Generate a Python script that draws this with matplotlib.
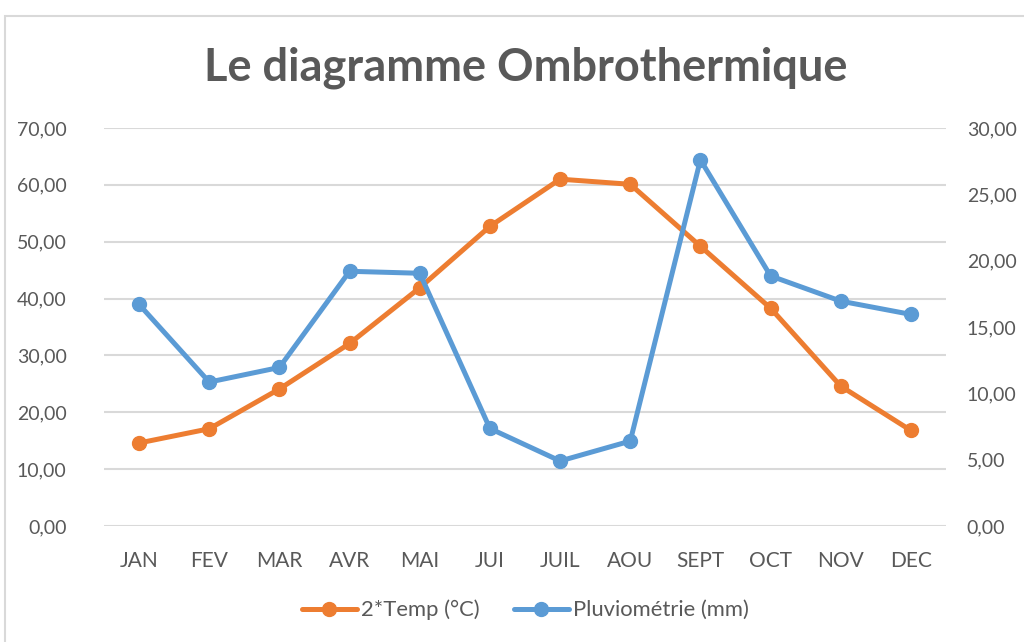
import matplotlib
matplotlib.use("Agg")
import matplotlib.pyplot as plt
from matplotlib.patches import Rectangle
from matplotlib.ticker import FuncFormatter, MultipleLocator

months = ["JAN", "FEV", "MAR", "AVR", "MAI", "JUI", "JUIL", "AOU", "SEPT", "OCT", "NOV", "DEC"]
temp2 = [14.6, 17.1, 24.1, 32.1, 41.9, 52.7, 61.0, 60.1, 49.2, 38.3, 24.6, 16.8]
pluvio = [16.7, 10.85, 11.95, 19.2, 19.05, 7.35, 4.9, 6.4, 27.6, 18.85, 16.95, 15.95]

ORANGE = "#ED7D31"
BLUE = "#5B9BD5"
TEXT = "#595959"
GRID = "#D9D9D9"

plt.rcParams["font.family"] = ["Lato", "DejaVu Sans"]

fig = plt.figure(figsize=(10.24, 6.42), dpi=100)

# chart frame (Excel-like light border, cut off at right/bottom)
fig.patches.append(Rectangle((5 / 1024, -0.05), 1.1, 1 - 16 / 642 + 0.05,
                             transform=fig.transFigure, fill=False,
                             edgecolor=GRID, linewidth=1.5))

ax = fig.add_axes([104 / 1024, 1 - 526 / 642, 842 / 1024, 398 / 642])
ax2 = ax.twinx()

x = list(range(len(months)))
l1, = ax.plot(x, temp2, color=ORANGE, linewidth=3.6, marker="o", markersize=10,
              label="2*Temp (°C)", solid_capstyle="round", zorder=3)
l2, = ax2.plot(x, pluvio, color=BLUE, linewidth=3.6, marker="o", markersize=10,
               label="Pluviométrie (mm)", solid_capstyle="round", zorder=3)

ax.set_xlim(-0.5, len(months) - 0.5)
ax.set_ylim(0, 70)
ax2.set_ylim(0, 30)
ax.yaxis.set_major_locator(MultipleLocator(10))
ax2.yaxis.set_major_locator(MultipleLocator(5))

fmt = FuncFormatter(lambda v, p: f"{v:.2f}".replace(".", ","))
ax.yaxis.set_major_formatter(fmt)
ax2.yaxis.set_major_formatter(fmt)

ax.set_xticks(x)
ax.set_xticklabels(months)

ax.grid(axis="y", color=GRID, linewidth=1.5)
ax.set_axisbelow(True)

for a in (ax, ax2):
    for s in a.spines.values():
        s.set_visible(False)
    a.tick_params(length=0, labelsize=14, colors=TEXT)
ax.tick_params(axis="x", labelsize=15, pad=18)
ax.tick_params(axis="y", pad=27)
ax2.tick_params(axis="y", pad=15)

fig.text(0.513, 1 - 68 / 642, "Le diagramme Ombrothermique", ha="center", va="center",
         fontsize=32.5, fontweight="bold", color=TEXT)

fig.legend(handles=[l1, l2], loc="center", bbox_to_anchor=(0.513, 1 - 610 / 642),
           ncol=2, frameon=False, fontsize=15.8, labelcolor=TEXT,
           handlelength=2.5, handletextpad=0.2, columnspacing=1.55)

fig.savefig("out.png", dpi=100)
